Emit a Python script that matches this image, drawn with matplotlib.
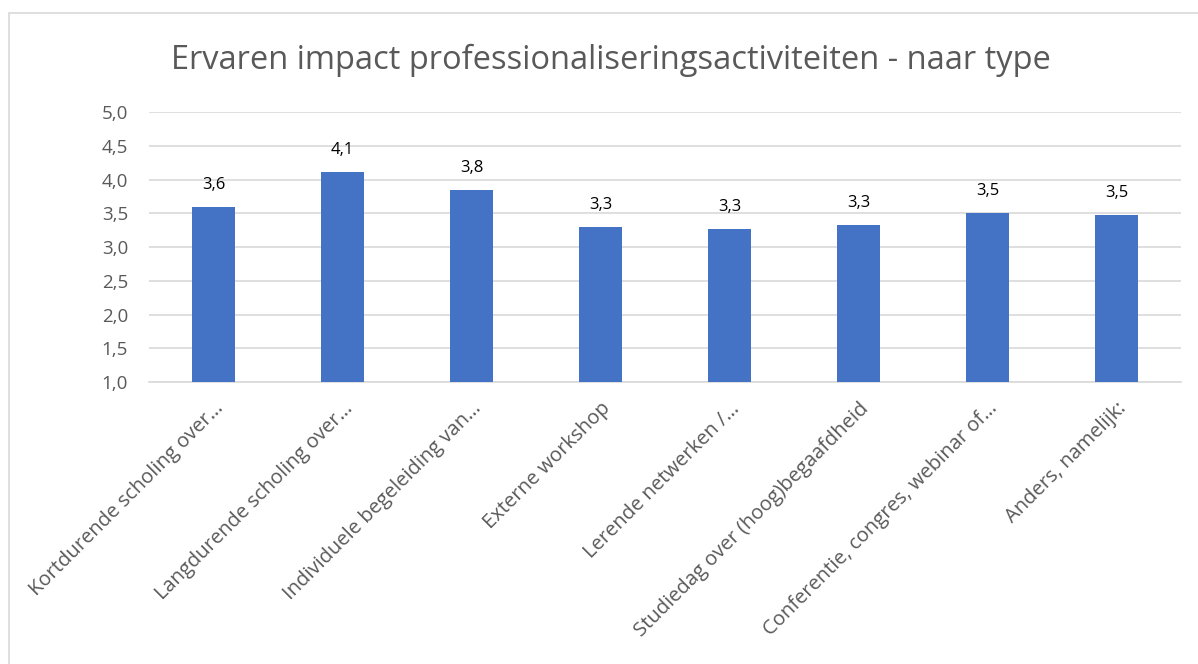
import matplotlib.pyplot as plt
from matplotlib.patches import Rectangle

# --- Data ---
categories = [
    "Kortdurende scholing over\u2026",
    "Langdurende scholing over\u2026",
    "Individuele begeleiding van\u2026",
    "Externe workshop",
    "Lerende netwerken /\u2026",
    "Studiedag over (hoog)begaafdheid",
    "Conferentie, congres, webinar of\u2026",
    "Anders, namelijk:",
]
values = [3.59, 4.11, 3.84, 3.30, 3.27, 3.33, 3.50, 3.48]
yticks = [1.0, 1.5, 2.0, 2.5, 3.0, 3.5, 4.0, 4.5, 5.0]

BAR_COLOR = "#4472C4"
GRID_COLOR = "#D9D9D9"
TEXT_GREY = "#595959"

plt.rcParams["font.family"] = ["Open Sans", "DejaVu Sans"]

fig = plt.figure(figsize=(11.98, 6.64), dpi=100)
ax = fig.add_axes([149 / 1198, 1 - 382 / 664, (1181 - 149) / 1198, (382 - 112) / 664])

x = range(len(categories))
ax.bar(x, values, width=0.33, color=BAR_COLOR, zorder=3)

for xi, v in zip(x, values):
    ax.annotate(f"{v:.1f}".replace(".", ","), (xi, v), xytext=(0, 10),
                textcoords="offset points", ha="center", va="bottom",
                fontsize=12, color="black")

ax.set_xlim(-0.5, len(categories) - 0.5)
ax.set_ylim(1.0, 5.0)
ax.set_yticks(yticks)
ax.set_yticklabels([f"{t:.1f}".replace(".", ",") for t in yticks],
                   fontsize=13.5, color=TEXT_GREY)
ax.set_xticks(list(x))
labels = ax.set_xticklabels(categories, rotation=45, ha="right", rotation_mode="anchor",
                            fontsize=14.5, color=TEXT_GREY)
ax.tick_params(axis="both", length=0)
ax.tick_params(axis="y", pad=15)
ax.tick_params(axis="x", pad=12)

ax.grid(axis="y", color=GRID_COLOR, linewidth=1.2, zorder=0)
for s in ["top", "right", "left"]:
    ax.spines[s].set_visible(False)
ax.spines["bottom"].set_color(GRID_COLOR)
ax.spines["bottom"].set_linewidth(1.2)

fig.text(611 / 1198, 1 - 60 / 664, "Ervaren impact professionaliseringsactiviteiten - naar type",
         ha="center", va="center", fontsize=23.5, color=TEXT_GREY)

# chart border
fig.patches.append(Rectangle((9 / 1198, -0.1), 1.2, 1 - 13 / 664 + 0.1,
                             transform=fig.transFigure, fill=False,
                             edgecolor=GRID_COLOR, linewidth=1.2))

fig.savefig("out.png", dpi=100)
